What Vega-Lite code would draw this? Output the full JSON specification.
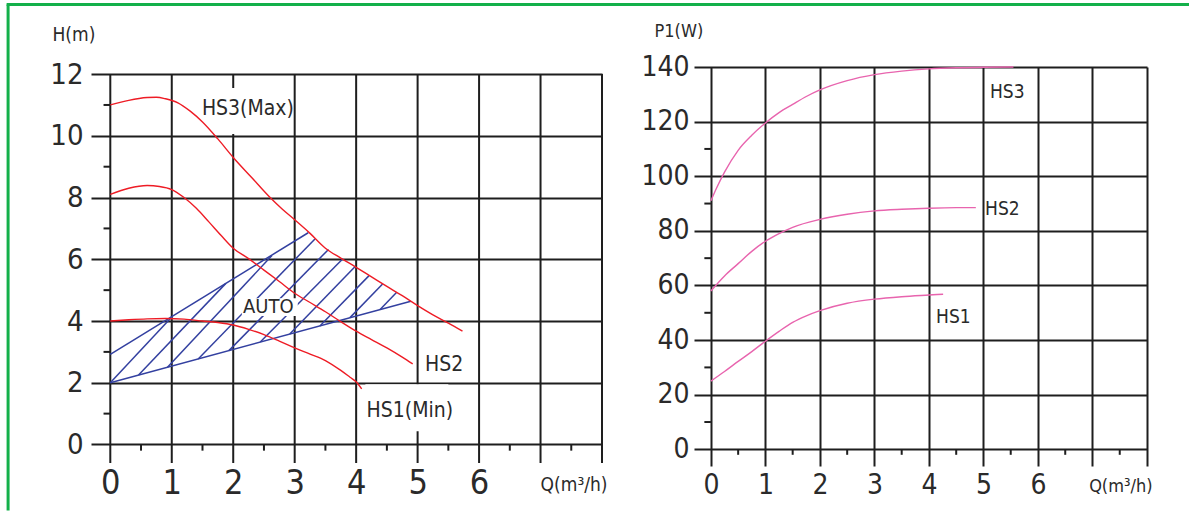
{
  "$schema": "https://vega.github.io/schema/vega-lite/v6.json",
  "background": "white",
  "padding": {"left": 5, "top": 2, "right": 0, "bottom": 0},
  "config": {
    "font": "DejaVu Sans Condensed, DejaVu Sans, sans-serif",
    "view": {"stroke": null},
    "axis": {
      "domain": false, "ticks": false, "gridColor": "#1e1e1e", "gridWidth": 2, "gridOpacity": 1,
      "labelColor": "#2a2a2a", "titleColor": "#2a2a2a", "titleFontWeight": "normal"
    },
    "text": {"color": "#2a2a2a"}
  },
  "datasets": {
    "curvesL": [
      {"s": "HS3", "q": 0, "h": 11.0}, {"s": "HS3", "q": 0.3, "h": 11.15}, {"s": "HS3", "q": 0.6, "h": 11.24}, {"s": "HS3", "q": 0.75, "h": 11.25},
      {"s": "HS3", "q": 0.9, "h": 11.2}, {"s": "HS3", "q": 1.1, "h": 11.07}, {"s": "HS3", "q": 1.3, "h": 10.8}, {"s": "HS3", "q": 1.5, "h": 10.45},
      {"s": "HS3", "q": 1.75, "h": 9.9}, {"s": "HS3", "q": 2.0, "h": 9.3}, {"s": "HS3", "q": 2.3, "h": 8.65}, {"s": "HS3", "q": 2.6, "h": 8.0},
      {"s": "HS3", "q": 2.8, "h": 7.62}, {"s": "HS3", "q": 3.0, "h": 7.28}, {"s": "HS3", "q": 3.25, "h": 6.84}, {"s": "HS3", "q": 3.5, "h": 6.36},
      {"s": "HS3", "q": 3.75, "h": 6.04}, {"s": "HS3", "q": 4.0, "h": 5.74}, {"s": "HS3", "q": 4.25, "h": 5.43}, {"s": "HS3", "q": 4.5, "h": 5.12},
      {"s": "HS3", "q": 4.75, "h": 4.82}, {"s": "HS3", "q": 5.0, "h": 4.5}, {"s": "HS3", "q": 5.25, "h": 4.2}, {"s": "HS3", "q": 5.5, "h": 3.93},
      {"s": "HS3", "q": 5.73, "h": 3.67},
      {"s": "HS2", "q": 0, "h": 8.1}, {"s": "HS2", "q": 0.3, "h": 8.3}, {"s": "HS2", "q": 0.6, "h": 8.39}, {"s": "HS2", "q": 0.8, "h": 8.36},
      {"s": "HS2", "q": 1.0, "h": 8.26}, {"s": "HS2", "q": 1.2, "h": 8.0}, {"s": "HS2", "q": 1.4, "h": 7.65}, {"s": "HS2", "q": 1.6, "h": 7.22},
      {"s": "HS2", "q": 1.8, "h": 6.78}, {"s": "HS2", "q": 2.0, "h": 6.36}, {"s": "HS2", "q": 2.25, "h": 6.02}, {"s": "HS2", "q": 2.5, "h": 5.65},
      {"s": "HS2", "q": 2.75, "h": 5.28}, {"s": "HS2", "q": 3.0, "h": 4.9}, {"s": "HS2", "q": 3.25, "h": 4.6}, {"s": "HS2", "q": 3.5, "h": 4.3},
      {"s": "HS2", "q": 3.75, "h": 3.98}, {"s": "HS2", "q": 4.0, "h": 3.67}, {"s": "HS2", "q": 4.25, "h": 3.4}, {"s": "HS2", "q": 4.5, "h": 3.13},
      {"s": "HS2", "q": 4.75, "h": 2.83}, {"s": "HS2", "q": 4.92, "h": 2.61},
      {"s": "HS1", "q": 0, "h": 4.0}, {"s": "HS1", "q": 0.3, "h": 4.04}, {"s": "HS1", "q": 0.6, "h": 4.07}, {"s": "HS1", "q": 0.9, "h": 4.08},
      {"s": "HS1", "q": 1.2, "h": 4.06}, {"s": "HS1", "q": 1.5, "h": 4.0}, {"s": "HS1", "q": 1.75, "h": 3.95}, {"s": "HS1", "q": 2.0, "h": 3.87},
      {"s": "HS1", "q": 2.25, "h": 3.73}, {"s": "HS1", "q": 2.5, "h": 3.56}, {"s": "HS1", "q": 2.75, "h": 3.35}, {"s": "HS1", "q": 3.0, "h": 3.13},
      {"s": "HS1", "q": 3.25, "h": 2.93}, {"s": "HS1", "q": 3.5, "h": 2.72}, {"s": "HS1", "q": 3.75, "h": 2.4}, {"s": "HS1", "q": 3.9, "h": 2.18},
      {"s": "HS1", "q": 4.0, "h": 2.03}, {"s": "HS1", "q": 4.09, "h": 1.8}
    ],
    "hatch": [
      {"q": 0, "h": 2.0, "q2": 1.0, "h2": 4.13},
      {"q": 0.46, "h": 2.25, "q2": 1.88, "h2": 5.22},
      {"q": 0.93, "h": 2.5, "q2": 2.63, "h2": 6.12},
      {"q": 1.43, "h": 2.77, "q2": 3.33, "h2": 6.66},
      {"q": 1.93, "h": 3.04, "q2": 3.55, "h2": 6.32},
      {"q": 2.44, "h": 3.32, "q2": 3.78, "h2": 6.01},
      {"q": 2.92, "h": 3.58, "q2": 3.98, "h2": 5.76},
      {"q": 3.41, "h": 3.84, "q2": 4.21, "h2": 5.47},
      {"q": 3.9, "h": 4.11, "q2": 4.43, "h2": 5.2},
      {"q": 4.39, "h": 4.37, "q2": 4.66, "h2": 4.93},
      {"q": 0, "h": 2.92, "q2": 3.22, "h2": 6.86},
      {"q": 0, "h": 2.0, "q2": 4.89, "h2": 4.64}
    ],
    "boxesL": [
      {"q": 1.5, "h": 10.06, "q2": 2.95, "h2": 11.55},
      {"q": 4.15, "h": 0.43, "q2": 5.5, "h2": 1.95},
      {"q": 2.14, "h": 4.16, "q2": 3.05, "h2": 4.74}
    ],
    "labelsL": [
      {"q": 1.49, "h": 10.88, "t": "HS3(Max)"},
      {"q": 5.12, "h": 2.59, "t": "HS2"},
      {"q": 4.17, "h": 1.08, "t": "HS1(Min)"},
      {"q": 2.16, "h": 4.45, "t": "AUTO"}
    ],
    "vgridL": [{"q": 0}, {"q": 1}, {"q": 2}, {"q": 3}, {"q": 4}, {"q": 5}, {"q": 6}, {"q": 7}, {"q": 8}],
    "halfQ": [{"q": 0.5}, {"q": 1.5}, {"q": 2.5}, {"q": 3.5}, {"q": 4.5}, {"q": 5.5}, {"q": 6.5}, {"q": 7.5}],
    "minorH": [{"h": 1}, {"h": 3}, {"h": 5}, {"h": 7}, {"h": 9}, {"h": 11}],
    "minorP": [{"p": 10}, {"p": 30}, {"p": 50}, {"p": 70}, {"p": 90}, {"p": 110}],
    "frameV": [{"q": -1.663, "h": 14.255, "h2": -2.141}],
    "frameH": [{"q": -1.687, "q2": 17.553, "h": 14.255}],
    "curvesR": [
      {"s": "HS3", "q": 0, "p": 91}, {"s": "HS3", "q": 0.1, "p": 95.5}, {"s": "HS3", "q": 0.25, "p": 101.5}, {"s": "HS3", "q": 0.5, "p": 109.5},
      {"s": "HS3", "q": 0.75, "p": 115}, {"s": "HS3", "q": 1.0, "p": 119.5}, {"s": "HS3", "q": 1.25, "p": 123.3}, {"s": "HS3", "q": 1.5, "p": 126.3},
      {"s": "HS3", "q": 1.75, "p": 129.2}, {"s": "HS3", "q": 2.0, "p": 131.6}, {"s": "HS3", "q": 2.5, "p": 135}, {"s": "HS3", "q": 3.0, "p": 137.2},
      {"s": "HS3", "q": 3.5, "p": 138.5}, {"s": "HS3", "q": 4.0, "p": 139.3}, {"s": "HS3", "q": 4.5, "p": 139.7}, {"s": "HS3", "q": 5.0, "p": 139.9},
      {"s": "HS3", "q": 5.55, "p": 140},
      {"s": "HS2", "q": 0, "p": 58}, {"s": "HS2", "q": 0.25, "p": 63.5}, {"s": "HS2", "q": 0.5, "p": 68}, {"s": "HS2", "q": 0.75, "p": 72.5},
      {"s": "HS2", "q": 1.0, "p": 76.2}, {"s": "HS2", "q": 1.25, "p": 79}, {"s": "HS2", "q": 1.5, "p": 81.3}, {"s": "HS2", "q": 2.0, "p": 84.2},
      {"s": "HS2", "q": 2.5, "p": 86.1}, {"s": "HS2", "q": 3.0, "p": 87.3}, {"s": "HS2", "q": 3.5, "p": 87.9}, {"s": "HS2", "q": 4.0, "p": 88.3},
      {"s": "HS2", "q": 4.5, "p": 88.5}, {"s": "HS2", "q": 4.86, "p": 88.5},
      {"s": "HS1", "q": 0, "p": 25}, {"s": "HS1", "q": 0.25, "p": 28.5}, {"s": "HS1", "q": 0.5, "p": 32.2}, {"s": "HS1", "q": 0.75, "p": 35.8},
      {"s": "HS1", "q": 1.0, "p": 39.6}, {"s": "HS1", "q": 1.25, "p": 43.2}, {"s": "HS1", "q": 1.5, "p": 46.5}, {"s": "HS1", "q": 1.75, "p": 48.9},
      {"s": "HS1", "q": 2.0, "p": 50.8}, {"s": "HS1", "q": 2.5, "p": 53.5}, {"s": "HS1", "q": 3.0, "p": 55.0}, {"s": "HS1", "q": 3.5, "p": 55.9},
      {"s": "HS1", "q": 4.0, "p": 56.5}, {"s": "HS1", "q": 4.26, "p": 56.8}
    ],
    "labelsR": [
      {"q": 5.12, "p": 131, "t": "HS3"},
      {"q": 5.03, "p": 88, "t": "HS2"},
      {"q": 4.13, "p": 48.6, "t": "HS1"}
    ]
  },
  "hconcat": [
    {
      "width": 511,
      "height": 396,
      "layer": [
        {
          "data": {"name": "vgridL"},
          "mark": {"type": "rule", "color": "#1e1e1e", "strokeWidth": 2},
          "encoding": {
            "x": {
              "field": "q", "type": "quantitative",
              "scale": {"domain": [-0.314, 8], "nice": false, "zero": false},
              "axis": {
                "values": [0, 1, 2, 3, 4, 5, 6], "format": "d", "grid": false, "labelFontSize": 34, "labelBaseline": "middle", "labelPadding": 20,
                "title": "Q(m³/h)", "titleFontSize": 19, "titleAnchor": "end", "titleAlign": "right", "titleBaseline": "middle",
                "titleX": 516, "titleY": 21
              }
            },
            "y": {"datum": -0.6, "type": "quantitative", "scale": {"domain": [-0.6, 12.23], "nice": false, "zero": false}},
            "y2": {"datum": 12}
          }
        },
        {
          "data": {"name": "minorH"},
          "mark": {"type": "rule", "color": "#1e1e1e", "strokeWidth": 2},
          "encoding": {
            "x": {"datum": -0.11, "type": "quantitative", "scale": {"domain": [-0.314, 8], "nice": false, "zero": false}},
            "x2": {"datum": 0},
            "y": {
              "field": "h", "type": "quantitative",
              "scale": {"domain": [-0.6, 12.23], "nice": false, "zero": false},
              "axis": {
                "values": [0, 2, 4, 6, 8, 10, 12], "format": "d", "grid": true, "labelFontSize": 29, "labelPadding": 8,
                "title": "H(m)", "titleFontSize": 19, "titleAngle": 0, "titleAlign": "left", "titleBaseline": "middle",
                "titleX": -39, "titleY": -32.5
              }
            }
          }
        },
        {
          "data": {"name": "halfQ"},
          "mark": {"type": "rule", "color": "#1e1e1e", "strokeWidth": 2},
          "encoding": {
            "x": {"field": "q", "type": "quantitative", "scale": {"domain": [-0.314, 8], "nice": false, "zero": false}},
            "y": {"datum": 0, "type": "quantitative", "scale": {"domain": [-0.6, 12.23], "nice": false, "zero": false}},
            "y2": {"datum": -0.2}
          }
        },
        {
          "data": {"name": "hatch"},
          "mark": {"type": "rule", "color": "#3340a0", "strokeWidth": 1.5},
          "encoding": {
            "x": {"field": "q", "type": "quantitative", "scale": {"domain": [-0.314, 8], "nice": false, "zero": false}},
            "x2": {"field": "q2"},
            "y": {"field": "h", "type": "quantitative", "scale": {"domain": [-0.6, 12.23], "nice": false, "zero": false}},
            "y2": {"field": "h2"}
          }
        },
        {
          "data": {"name": "boxesL"},
          "mark": {"type": "rect", "color": "white"},
          "encoding": {
            "x": {"field": "q", "type": "quantitative", "scale": {"domain": [-0.314, 8], "nice": false, "zero": false}},
            "x2": {"field": "q2"},
            "y": {"field": "h", "type": "quantitative", "scale": {"domain": [-0.6, 12.23], "nice": false, "zero": false}},
            "y2": {"field": "h2"}
          }
        },
        {
          "data": {"name": "curvesL"},
          "mark": {"type": "line", "strokeWidth": 1.4, "interpolate": "monotone", "color": "#ee1c25"},
          "encoding": {
            "x": {"field": "q", "type": "quantitative", "scale": {"domain": [-0.314, 8], "nice": false, "zero": false}},
            "y": {"field": "h", "type": "quantitative", "scale": {"domain": [-0.6, 12.23], "nice": false, "zero": false}},
            "detail": {"field": "s"}
          }
        },
        {
          "data": {"name": "labelsL"},
          "transform": [{"filter": "datum.t != 'AUTO'"}],
          "mark": {"type": "text", "align": "left", "baseline": "middle", "fontSize": 21},
          "encoding": {
            "x": {"field": "q", "type": "quantitative", "scale": {"domain": [-0.314, 8], "nice": false, "zero": false}},
            "y": {"field": "h", "type": "quantitative", "scale": {"domain": [-0.6, 12.23], "nice": false, "zero": false}},
            "text": {"field": "t"}
          }
        },
        {
          "data": {"name": "labelsL"},
          "transform": [{"filter": "datum.t == 'AUTO'"}],
          "mark": {"type": "text", "align": "left", "baseline": "middle", "fontSize": 20},
          "encoding": {
            "x": {"field": "q", "type": "quantitative", "scale": {"domain": [-0.314, 8], "nice": false, "zero": false}},
            "y": {"field": "h", "type": "quantitative", "scale": {"domain": [-0.6, 12.23], "nice": false, "zero": false}},
            "text": {"field": "t"}
          }
        },
        {
          "data": {"name": "frameV"},
          "mark": {"type": "rule", "color": "#13b04a", "strokeWidth": 3},
          "encoding": {
            "x": {"field": "q", "type": "quantitative", "scale": {"domain": [-0.314, 8], "nice": false, "zero": false}},
            "y": {"field": "h", "type": "quantitative", "scale": {"domain": [-0.6, 12.23], "nice": false, "zero": false}},
            "y2": {"field": "h2"}
          }
        },
        {
          "data": {"name": "frameH"},
          "mark": {"type": "rule", "color": "#13b04a", "strokeWidth": 3},
          "encoding": {
            "x": {"field": "q", "type": "quantitative", "scale": {"domain": [-0.314, 8], "nice": false, "zero": false}},
            "x2": {"field": "q2"},
            "y": {"field": "h", "type": "quantitative", "scale": {"domain": [-0.6, 12.23], "nice": false, "zero": false}}
          }
        }
      ]
    },
    {
      "width": 453,
      "height": 399,
      "layer": [
        {
          "data": {"name": "curvesR"},
          "mark": {"type": "line", "strokeWidth": 1.4, "interpolate": "monotone", "color": "#e864ae"},
          "encoding": {
            "x": {
              "field": "q", "type": "quantitative",
              "scale": {"domain": [-0.31, 8], "nice": false, "zero": false},
              "axis": {
                "values": [0, 1, 2, 3, 4, 5, 6, 7, 8], "format": "d", "grid": true, "labelExpr": "datum.value <= 6 ? datum.label : ''",
                "labelFontSize": 28, "labelBaseline": "middle", "labelPadding": 19,
                "title": "Q(m³/h)", "titleFontSize": 18, "titleAnchor": "end", "titleAlign": "right", "titleBaseline": "middle",
                "titleX": 458, "titleY": 20
              }
            },
            "y": {
              "field": "p", "type": "quantitative",
              "scale": {"domain": [-6.1, 140], "nice": false, "zero": false},
              "axis": {
                "values": [0, 20, 40, 60, 80, 100, 120, 140], "format": "d", "grid": true, "labelFontSize": 28, "labelPadding": 5,
                "title": "P1(W)", "titleFontSize": 18, "titleAngle": 0, "titleAlign": "left", "titleBaseline": "middle",
                "titleX": -40, "titleY": -35.5
              }
            },
            "detail": {"field": "s"}
          }
        },
        {
          "data": {"name": "halfQ"},
          "mark": {"type": "rule", "color": "#1e1e1e", "strokeWidth": 2},
          "encoding": {
            "x": {"field": "q", "type": "quantitative", "scale": {"domain": [-0.31, 8], "nice": false, "zero": false}},
            "y": {"datum": 0, "type": "quantitative", "scale": {"domain": [-6.1, 140], "nice": false, "zero": false}},
            "y2": {"datum": -2}
          }
        },
        {
          "data": {"name": "minorP"},
          "mark": {"type": "rule", "color": "#1e1e1e", "strokeWidth": 2},
          "encoding": {
            "x": {"datum": -0.12, "type": "quantitative", "scale": {"domain": [-0.31, 8], "nice": false, "zero": false}},
            "x2": {"datum": 0},
            "y": {"field": "p", "type": "quantitative", "scale": {"domain": [-6.1, 140], "nice": false, "zero": false}}
          }
        },
        {
          "data": {"name": "labelsR"},
          "mark": {"type": "text", "align": "left", "baseline": "middle", "fontSize": 19},
          "encoding": {
            "x": {"field": "q", "type": "quantitative", "scale": {"domain": [-0.31, 8], "nice": false, "zero": false}},
            "y": {"field": "p", "type": "quantitative", "scale": {"domain": [-6.1, 140], "nice": false, "zero": false}},
            "text": {"field": "t"}
          }
        }
      ]
    }
  ],
  "spacing": 92,
  "bounds": "flush"
}
